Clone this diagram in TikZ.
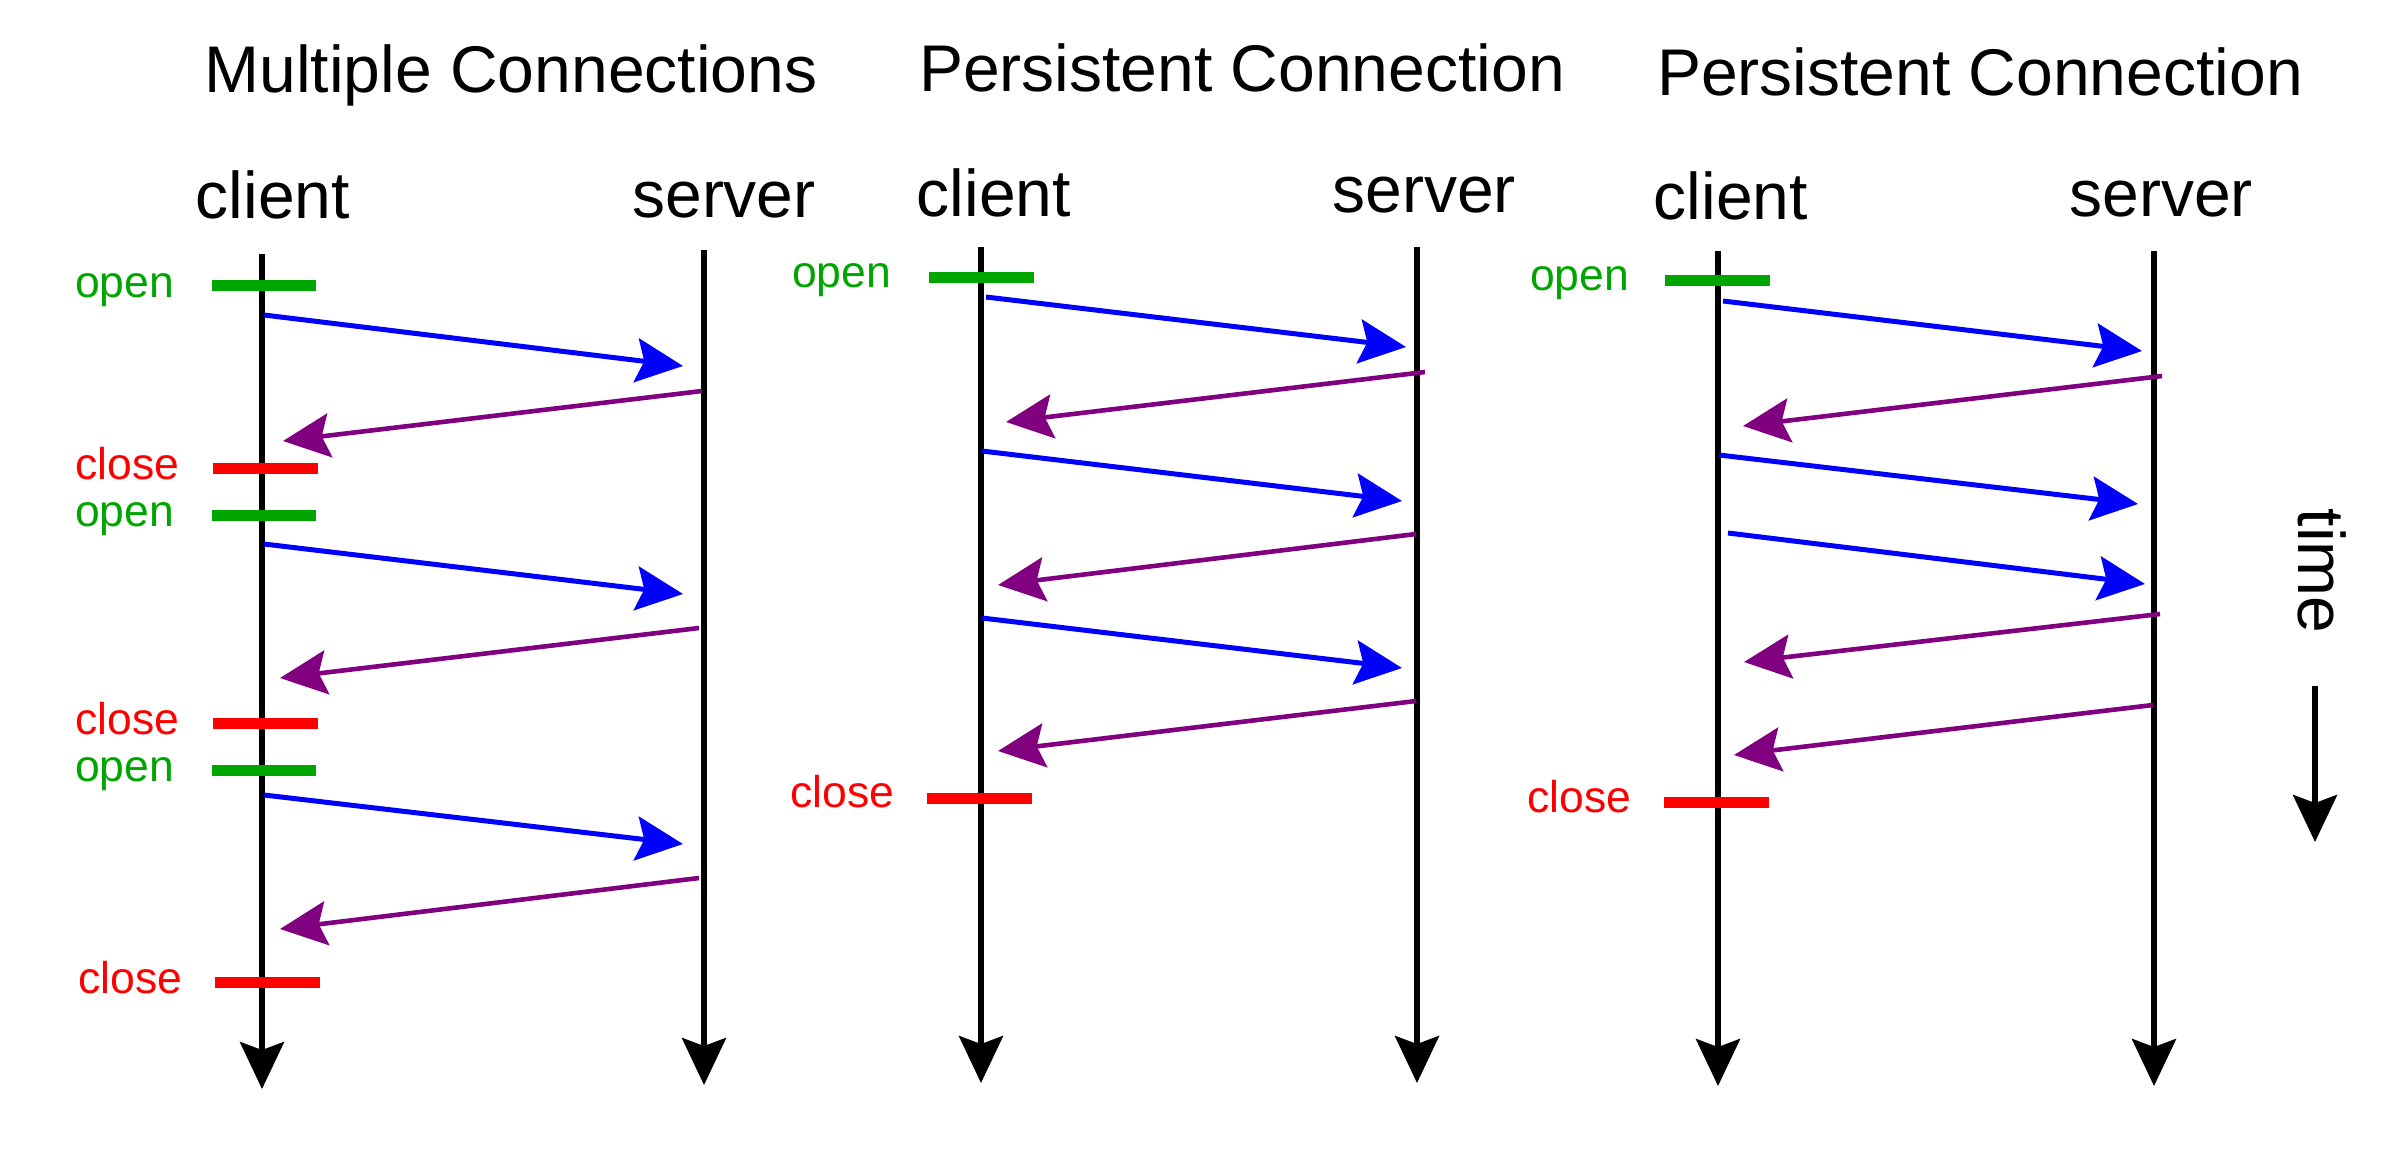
\documentclass[tikz,border=0pt]{standalone}
\usepackage{fontspec}
\setmainfont{Liberation Sans}
\usetikzlibrary{arrows.meta}
\definecolor{opengreen}{RGB}{0,166,0}
\definecolor{closered}{RGB}{255,0,0}
\definecolor{reqblue}{RGB}{0,0,255}
\definecolor{resppurple}{RGB}{128,0,128}
\begin{document}
\begin{tikzpicture}[x=1pt,y=-1pt,
  big/.style={font=\fontsize{66}{70}\selectfont, inner sep=0pt, anchor=base},
  lbl/.style={font=\fontsize{44.5}{48}\selectfont, inner sep=0pt, anchor=base west},
  tipstyle/.style={-{Stealth[length=47pt,width=44pt,inset=8pt]}},
  life/.style={draw=black, line width=5.5pt, tipstyle},
  bar/.style={line width=11pt},
  req/.style={draw=reqblue, line width=5pt, tipstyle},
  resp/.style={draw=resppurple, line width=4.6pt, tipstyle}]
\fill[white] (0,0) rectangle (2400,1167);
\useasboundingbox (0,0) rectangle (2400,1167);

% ---------- Panel 1 ----------
\node[big] (t1) at (511,92) {Multiple Connections};
\node[big] (cl1) at (273,218) {client};
\node[big] (sv1) at (724,217) {server};
\coordinate (c1top) at (262,254); \coordinate (c1bot) at (262,1089);
\coordinate (s1top) at (704,250); \coordinate (s1bot) at (704,1085);
\draw[life] (c1top) -- (c1bot);
\draw[life] (s1top) -- (s1bot);
\coordinate (o1a) at (212,285); \coordinate (o1b) at (316,285);
\coordinate (x1a) at (213,468); \coordinate (x1b) at (318,468);
\coordinate (o2a) at (212,515); \coordinate (o2b) at (316,515);
\coordinate (x2a) at (213,723); \coordinate (x2b) at (318,723);
\coordinate (o3a) at (212,770); \coordinate (o3b) at (316,770);
\coordinate (x3a) at (215,982); \coordinate (x3b) at (320,982);
\draw[bar,opengreen] (o1a) -- (o1b);
\draw[bar,closered] (x1a) -- (x1b);
\draw[bar,opengreen] (o2a) -- (o2b);
\draw[bar,closered] (x2a) -- (x2b);
\draw[bar,opengreen] (o3a) -- (o3b);
\draw[bar,closered] (x3a) -- (x3b);
\node[lbl,text=opengreen] (lo1) at (75,297) {open};
\node[lbl,text=closered] (lx1) at (75,479) {close};
\node[lbl,text=opengreen] (lo2) at (75,526) {open};
\node[lbl,text=closered] (lx2) at (75,734) {close};
\node[lbl,text=opengreen] (lo3) at (75,781) {open};
\node[lbl,text=closered] (lx3) at (78,993) {close};
\coordinate (a1s) at (264,315); \coordinate (a1e) at (683,366);
\coordinate (a2s) at (702,391); \coordinate (a2e) at (283,441);
\coordinate (a3s) at (264,544); \coordinate (a3e) at (683,594);
\coordinate (a4s) at (699,628); \coordinate (a4e) at (280,678);
\coordinate (a5s) at (264,795); \coordinate (a5e) at (683,844);
\coordinate (a6s) at (699,878); \coordinate (a6e) at (280,929);
\draw[req] (a1s) -- (a1e);
\draw[resp] (a2s) -- (a2e);
\draw[req] (a3s) -- (a3e);
\draw[resp] (a4s) -- (a4e);
\draw[req] (a5s) -- (a5e);
\draw[resp] (a6s) -- (a6e);

% ---------- Panel 2 ----------
\node[big] (t2) at (1242,91) {Persistent Connection};
\node[big] (cl2) at (994,216) {client};
\node[big] (sv2) at (1424,212) {server};
\coordinate (c2top) at (981,247); \coordinate (c2bot) at (981,1083);
\coordinate (s2top) at (1417,247); \coordinate (s2bot) at (1417,1083);
\draw[life] (c2top) -- (c2bot);
\draw[life] (s2top) -- (s2bot);
\coordinate (po1a) at (929,277); \coordinate (po1b) at (1034,277);
\coordinate (px1a) at (927,798); \coordinate (px1b) at (1032,798);
\draw[bar,opengreen] (po1a) -- (po1b);
\draw[bar,closered] (px1a) -- (px1b);
\node[lbl,text=opengreen] (plo1) at (792,287) {open};
\node[lbl,text=closered] (plx1) at (790,807) {close};
\coordinate (b1s) at (986,297); \coordinate (b1e) at (1406,347);
\coordinate (b2s) at (1425,372); \coordinate (b2e) at (1006,422);
\coordinate (b3s) at (982,451); \coordinate (b3e) at (1402,501);
\coordinate (b4s) at (1416,534); \coordinate (b4e) at (998,585);
\coordinate (b5s) at (982,618); \coordinate (b5e) at (1402,668);
\coordinate (b6s) at (1416,701); \coordinate (b6e) at (998,751);
\draw[req] (b1s) -- (b1e);
\draw[resp] (b2s) -- (b2e);
\draw[req] (b3s) -- (b3e);
\draw[resp] (b4s) -- (b4e);
\draw[req] (b5s) -- (b5e);
\draw[resp] (b6s) -- (b6e);

% ---------- Panel 3 ----------
\node[big] (t3) at (1980,95) {Persistent Connection};
\node[big] (cl3) at (1731,219) {client};
\node[big] (sv3) at (2161,216) {server};
\coordinate (c3top) at (1718,251); \coordinate (c3bot) at (1718,1086);
\coordinate (s3top) at (2154,251); \coordinate (s3bot) at (2154,1086);
\draw[life] (c3top) -- (c3bot);
\draw[life] (s3top) -- (s3bot);
\coordinate (qo1a) at (1665,280); \coordinate (qo1b) at (1770,280);
\coordinate (qx1a) at (1664,802); \coordinate (qx1b) at (1769,802);
\draw[bar,opengreen] (qo1a) -- (qo1b);
\draw[bar,closered] (qx1a) -- (qx1b);
\node[lbl,text=opengreen] (qlo1) at (1530,290) {open};
\node[lbl,text=closered] (qlx1) at (1527,812) {close};
\coordinate (d1s) at (1723,301); \coordinate (d1e) at (2142,351);
\coordinate (d2s) at (2162,376); \coordinate (d2e) at (1743,426);
\coordinate (d3s) at (1719,455); \coordinate (d3e) at (2138,504);
\coordinate (d4s) at (1728,533); \coordinate (d4e) at (2145,584);
\coordinate (d5s) at (2160,614); \coordinate (d5e) at (1744,662);
\coordinate (d6s) at (2153,705); \coordinate (d6e) at (1734,755);
\draw[req] (d1s) -- (d1e);
\draw[resp] (d2s) -- (d2e);
\draw[req] (d3s) -- (d3e);
\draw[req] (d4s) -- (d4e);
\draw[resp] (d5s) -- (d5e);
\draw[resp] (d6s) -- (d6e);

% ---------- time ----------
\node[font=\fontsize{66}{70}\selectfont, inner sep=0pt, rotate=-90] (time) at (2322,571) {time};
\coordinate (tms) at (2315,686); \coordinate (tme) at (2315,842);
\draw[life] (tms) -- (tme);
\end{tikzpicture}
\end{document}
